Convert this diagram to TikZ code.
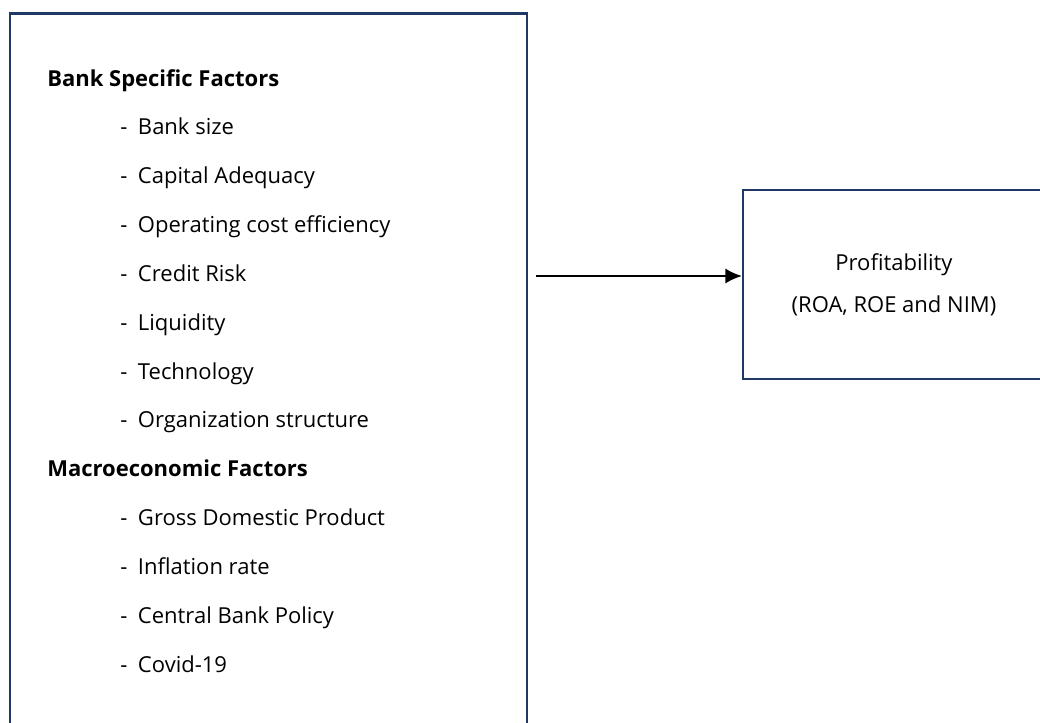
\documentclass[tikz,border=0pt]{standalone}
\usepackage{fontspec}
\setmainfont{Open Sans}
\usetikzlibrary{positioning,arrows.meta}
\definecolor{boxblue}{HTML}{1F3864}

\begin{document}
\begin{tikzpicture}[
    x=0.75pt, y=-0.75pt,
    frame/.style={draw=boxblue, line width=1.6pt, inner sep=0pt},
    item/.style={anchor=base west, inner sep=0pt, font=\fontsize{16.5}{20}\selectfont},
    head/.style={item, font=\fontsize{16.5}{20}\selectfont\bfseries},
    edge/.style={-{Latex[length=12.5pt, width=11.5pt]}, line width=1.6pt}
]
\useasboundingbox (0,0) rectangle (1040,722);

\node[frame, minimum width=387.75pt, minimum height=544.9pt] (factors) at (268.25,376.75) {};
\node[frame, minimum width=226.5pt, minimum height=141.75pt, align=center,
      font=\fontsize{16.5}{31.5}\selectfont] (profit) at (894,284.5) {Profitability\\(ROA, ROE and NIM)};

\node[head] (bank) at (47,86) {Bank Specific Factors};
\node[item] (size) at (120,134.8) {-\hspace{8pt}Bank size};
\node[item] (capital) at (120,183.7) {-\hspace{8pt}Capital Adequacy};
\node[item] (cost) at (120,232.5) {-\hspace{8pt}Operating cost efficiency};
\node[item] (credit) at (120,281.3) {-\hspace{8pt}Credit Risk};
\node[item] (liquid) at (120,330.2) {-\hspace{8pt}Liquidity};
\node[item] (tech) at (120,379) {-\hspace{8pt}Technology};
\node[item] (org) at (120,427.8) {-\hspace{8pt}Organization structure};
\node[head] (macro) at (47,476.7) {Macroeconomic Factors};
\node[item] (gdp) at (120,525.5) {-\hspace{8pt}Gross Domestic Product};
\node[item] (inflation) at (120,574.3) {-\hspace{8pt}Inflation rate};
\node[item] (policy) at (120,623.2) {-\hspace{8pt}Central Bank Policy};
\node[item] (covid) at (120,672) {-\hspace{8pt}Covid-19};

\coordinate (src) at (536,276);
\draw[edge] (src) -- (src -| profit.west);
\end{tikzpicture}
\end{document}
